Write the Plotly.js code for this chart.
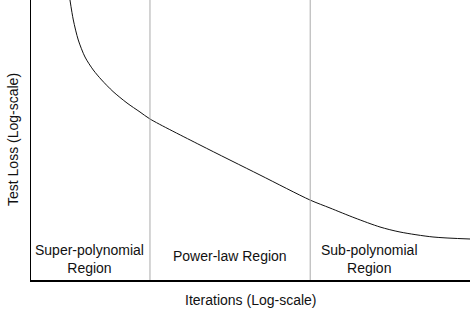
<!DOCTYPE html>
<html>
<head>
<meta charset="utf-8">
<script src="https://cdn.plot.ly/plotly-3.0.1.min.js"></script>
<style>html,body{margin:0;padding:0;background:#fff;}#chart{width:472px;height:311px;}</style>
</head>
<body>
<div id="chart"></div>
<script>
// log-iterations (arbitrary units) and log-loss (arbitrary units)
const logIter = [0.888, 0.964, 1.077, 1.230, 1.419, 1.610, 1.868, 2.187, 2.483, 2.711, 3.850, 5.216, 6.355, 6.811, 7.380, 7.950, 8.405, 9.157, 10.0];
const logLoss = [10.0, 9.286, 8.571, 7.964, 7.5, 7.143, 6.732, 6.321, 6.0, 5.75, 4.821, 3.75, 2.857, 2.571, 2.214, 1.893, 1.714, 1.536, 1.464];
const boundaries = [2.71, 6.36];
const regionNames = ["Super-polynomial<br>Region", "Power-law Region", "Sub-polynomial<br>Region"];
const regionCenters = [1.34, 4.53, 7.72];
const regionY = [0.75, 0.86, 0.75];
const xTitle = "Iterations (Log-scale)";
const yTitle = "Test Loss (Log-scale)";

const font = {family: "Liberation Sans, Arial, sans-serif", size: 14, color: "#111"};

const traces = [{
  x: logIter, y: logLoss, type: "scatter", mode: "lines",
  line: {color: "#111", width: 1, shape: "spline", smoothing: 0.8},
  hoverinfo: "none", showlegend: false
}];

const shapes = boundaries.map(b => ({
  type: "line", xref: "x", yref: "y", x0: b, x1: b, y0: 0, y1: 10,
  line: {color: "#aaaaaa", width: 1}
}));

const annotations = regionNames.map((t, i) => ({
  x: regionCenters[i], y: regionY[i], xref: "x", yref: "y",
  text: t, showarrow: false, font: font, align: "center"
}));
annotations.push({x: 0.5, y: 0, xref: "paper", yref: "paper", yshift: -20,
  text: xTitle, showarrow: false, font: font, xanchor: "center", yanchor: "middle"});
annotations.push({x: 0, y: 0.5, xref: "paper", yref: "paper", xshift: -18,
  text: yTitle, showarrow: false, font: font, textangle: -90, xanchor: "center", yanchor: "middle"});

const layout = {
  width: 472, height: 311,
  margin: {l: 31, r: 2, t: 0, b: 31},
  paper_bgcolor: "#fff", plot_bgcolor: "#fff",
  xaxis: {range: [0, 10], showgrid: false, zeroline: false, showticklabels: false, ticks: "",
          showline: true, linecolor: "#000", linewidth: 1.5},
  yaxis: {range: [0, 10], showgrid: false, zeroline: false, showticklabels: false, ticks: "",
          showline: true, linecolor: "#000", linewidth: 1.5},
  shapes: shapes,
  annotations: annotations,
  showlegend: false
};

Plotly.newPlot("chart", traces, layout, {displayModeBar: false, staticPlot: true});
</script>
</body>
</html>
